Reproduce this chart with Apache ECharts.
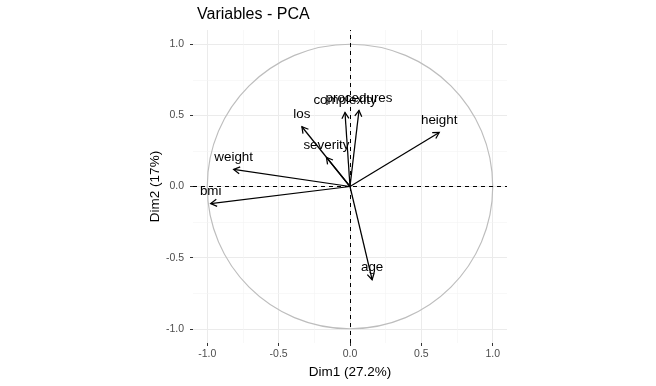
<!DOCTYPE html>
<html>
<head>
<meta charset="utf-8">
<script src="https://cdn.jsdelivr.net/npm/echarts@6/dist/echarts.min.js"></script>
<style>
html,body{margin:0;padding:0;background:#fff;}
#chart{width:656px;height:386px;}
</style>
</head>
<body>
<div id="chart"></div>
<script>
// ---- data ----
const variables = ['height','procedures','complexity','los','severity','weight','bmi','age'];
const dim1 = [0.625, 0.063, -0.035, -0.337, -0.165, -0.815, -0.976, 0.155];
const dim2 = [0.38, 0.535, 0.52, 0.42, 0.204, 0.12, -0.12, -0.655];
const majorTicks = [-1, -0.5, 0, 0.5, 1];
const minorTicks = [-0.75, -0.25, 0.25, 0.75];
const axisRange = [-1.1, 1.1];
const circleRadius = [1];

const FONT = 'Liberation Sans, Arial, Helvetica, sans-serif';
const chart = echarts.init(document.getElementById('chart'), null, {renderer:'canvas'});

const gridLines = [];
majorTicks.forEach(v => {
  gridLines.push({xAxis: v, lineStyle:{color:'#ebebeb', width:1, type:'solid'}});
  gridLines.push({yAxis: v, lineStyle:{color:'#ebebeb', width:1, type:'solid'}});
});
minorTicks.forEach(v => {
  gridLines.push({xAxis: v, lineStyle:{color:'#f3f3f3', width:0.6, type:'solid'}});
  gridLines.push({yAxis: v, lineStyle:{color:'#f3f3f3', width:0.6, type:'solid'}});
});

const arrowData = variables.map((n, i) => [dim1[i], dim2[i], n]);

function axisCfg(name, gap) {
  return {
    type: 'value',
    min: axisRange[0], max: axisRange[1],
    name: name, nameLocation: 'middle', nameGap: gap,
    nameTextStyle: {fontFamily: FONT, fontSize: 13.5, color: '#000'},
    axisLine: {show: false, onZero: false},
    axisTick: {show: true, length: 3, customValues: majorTicks, lineStyle: {color: '#333', width: 1}},
    axisLabel: {customValues: majorTicks, fontFamily: FONT, fontSize: 10.5, color: '#4d4d4d',
      formatter: v => v.toFixed(1)},
    splitLine: {show: false}
  };
}

const xA = axisCfg('Dim1 (27.2%)', 21); xA.axisLabel.margin = 6;
const yA = axisCfg('Dim2 (17%)', 28); yA.axisLabel.margin = 9;

chart.setOption({
  animation: false,
  backgroundColor: '#fff',
  title: {text: 'Variables - PCA', left: 192, top: 2,
    textStyle: {fontFamily: FONT, fontSize: 16, fontWeight: 'normal', color: '#000'}},
  grid: {left: 193, right: 149, top: 30, bottom: 43, containLabel: false},
  xAxis: xA,
  yAxis: yA,
  series: [
    {
      type: 'custom', name: 'circle', z: 2,
      data: [[0, 0, circleRadius[0]]],
      renderItem: (params, api) => {
        const c = api.coord([api.value(0), api.value(1)]);
        const r = api.size([api.value(2), api.value(2)]);
        return {type: 'ellipse', shape: {cx: c[0], cy: c[1], rx: r[0], ry: r[1]},
          style: {fill: 'none', stroke: '#bdbdbd', lineWidth: 1.2}};
      },
      markLine: {silent: true, symbol: 'none', label: {show: false}, z: 1, data: gridLines}
    },
    {
      type: 'line', name: 'zero', data: [], z: 3,
      markLine: {silent: true, symbol: 'none', label: {show: false},
        lineStyle: {color: '#000', width: 1, type: [4, 4]},
        data: [{xAxis: 0}, {yAxis: 0}]}
    },
    {
      type: 'custom', name: 'vars', z: 5,
      data: arrowData,
      renderItem: (params, api) => {
        const o = api.coord([0, 0]);
        const p = api.coord([api.value(0), api.value(1)]);
        const ang = Math.atan2(p[1] - o[1], p[0] - o[0]);
        const L = 7, a = Math.PI / 6;
        const h1 = [p[0] - L * Math.cos(ang - a), p[1] - L * Math.sin(ang - a)];
        const h2 = [p[0] - L * Math.cos(ang + a), p[1] - L * Math.sin(ang + a)];
        const name = arrowData[params.dataIndex][2];
        return {type: 'group', children: [
          {type: 'line', shape: {x1: o[0], y1: o[1], x2: p[0], y2: p[1]},
            style: {stroke: '#000', lineWidth: 1.25}},
          {type: 'polyline', shape: {points: [h1, p, h2]},
            style: {stroke: '#000', fill: 'none', lineWidth: 1.25}},
          {type: 'text', x: p[0], y: p[1] - 12,
            style: {text: name, fill: '#000', fontFamily: FONT, fontSize: 13.4,
              align: 'center', verticalAlign: 'middle'}}
        ]};
      }
    }
  ]
});
</script>
</body>
</html>
